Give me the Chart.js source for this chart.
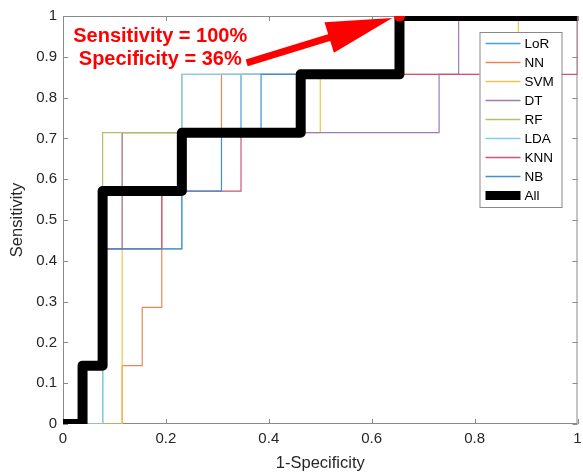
<!DOCTYPE html>
<html>
<head>
<meta charset="utf-8">
<script src="https://cdn.jsdelivr.net/npm/chart.js@4.4.0/dist/chart.umd.min.js"></script>
<style>
  html, body { margin: 0; padding: 0; background: #fff; }
  #roc { display: block; }
</style>
</head>
<body>
<canvas id="roc" width="583" height="473"></canvas>
<script>
// ROC curves, x = 1-Specificity, y = Sensitivity
const classifiers = ['LoR', 'NN', 'SVM', 'DT', 'RF', 'LDA', 'KNN', 'NB', 'All'];
const lineColors = ['#4a9fd8', '#e58a55', '#e8c54a', '#a27ab6', '#b2c06a', '#7ccdea', '#cc5577', '#3f8fd0', '#000000'];
const lineWidths = [1.2, 1.2, 1.2, 1.2, 1.2, 1.2, 1.2, 1.2, 10];

const lorX = [0, 0.077, 0.077, 0.231, 0.231, 0.346, 0.346, 0.654, 0.654, 1];
const lorY = [0, 0, 0.571, 0.571, 0.714, 0.714, 0.857, 0.857, 1, 1];
const nnX = [0, 0.115, 0.115, 0.154, 0.154, 0.192, 0.192, 0.231, 0.231, 0.308, 0.308, 0.654, 0.654, 1];
const nnY = [0, 0, 0.143, 0.143, 0.286, 0.286, 0.571, 0.571, 0.714, 0.714, 0.857, 0.857, 1, 1];
const svmX = [0, 0.115, 0.115, 0.5, 0.5, 0.885, 0.885, 1];
const svmY = [0, 0, 0.714, 0.714, 0.857, 0.857, 1, 1];
const dtX = [0, 0.038, 0.038, 0.077, 0.077, 0.115, 0.115, 0.731, 0.731, 0.769, 0.769, 1];
const dtY = [0, 0, 0.143, 0.143, 0.429, 0.429, 0.714, 0.714, 0.857, 0.857, 1, 1];
const rfX = [0, 0.077, 0.077, 0.231, 0.231, 0.654, 0.654, 1];
const rfY = [0, 0, 0.714, 0.714, 0.857, 0.857, 1, 1];
const ldaX = [0, 0.077, 0.077, 0.231, 0.231, 0.654, 0.654, 1];
const ldaY = [0, 0, 0.429, 0.429, 0.857, 0.857, 1, 1];
const knnX = [0, 0.038, 0.038, 0.077, 0.077, 0.192, 0.192, 0.346, 0.346, 0.462, 0.462, 1, 1];
const knnY = [0, 0, 0.143, 0.143, 0.429, 0.429, 0.571, 0.571, 0.714, 0.714, 0.857, 0.857, 1];
const nbX = [0, 0.038, 0.038, 0.077, 0.077, 0.231, 0.231, 0.308, 0.308, 0.385, 0.385, 0.654, 0.654, 1];
const nbY = [0, 0, 0.143, 0.143, 0.429, 0.429, 0.571, 0.571, 0.714, 0.714, 0.857, 0.857, 1, 1];
const allX = [0, 0.038, 0.038, 0.077, 0.077, 0.231, 0.231, 0.462, 0.462, 0.654, 0.654, 1];
const allY = [0, 0, 0.143, 0.143, 0.571, 0.571, 0.714, 0.714, 0.857, 0.857, 1, 1];

// operating point + annotation (data units)
const bestPoint = [0.654, 1];
const arrowTail = [0.357, 0.885];
const arrowTip = [0.64, 0.995];
const noteLines = ['Sensitivity = 100%', 'Specificity = 36%'];
const notePos = [[0.189, 0.949], [0.189, 0.893]];

const xTicks = [0, 0.2, 0.4, 0.6, 0.8, 1];
const yTicks = [0, 0.1, 0.2, 0.3, 0.4, 0.5, 0.6, 0.7, 0.8, 0.9, 1];

const curvesX = [lorX, nnX, svmX, dtX, rfX, ldaX, knnX, nbX, allX];
const curvesY = [lorY, nnY, svmY, dtY, rfY, ldaY, knnY, nbY, allY];

Chart.defaults.font.family = '"Liberation Sans", Arial, sans-serif';
Chart.defaults.color = '#262626';

const datasets = classifiers.map((name, i) => ({
    label: name,
    data: curvesX[i].map((v, k) => ({ x: v, y: curvesY[i][k] })),
    showLine: true,
    borderColor: lineColors[i],
    borderWidth: lineWidths[i],
    borderJoinStyle: i === 8 ? 'round' : 'miter',
    pointRadius: 0,
    fill: false,
    order: classifiers.length - i   // later curves drawn on top (like MATLAB)
}));
datasets.push({
    label: 'best',
    data: [{ x: bestPoint[0], y: bestPoint[1] }],
    pointRadius: 5.5,
    pointBackgroundColor: '#ff0000',
    pointBorderWidth: 0,
    showLine: false,
    order: -1
});

// box around the axes with inward ticks
const frameAndTicks = {
    id: 'frameAndTicks',
    beforeDatasetsDraw(chart) {
        const { ctx, chartArea: a, scales: { x, y } } = chart;
        ctx.save();
        ctx.strokeStyle = '#8a8a8a';
        ctx.lineWidth = 1;
        ctx.strokeRect(a.left + 0.5, a.top + 0.5, a.width - 1, a.height - 1);
        ctx.beginPath();
        xTicks.forEach(v => {
            const px = Math.round(x.getPixelForValue(v)) + 0.5;
            ctx.moveTo(px, a.bottom); ctx.lineTo(px, a.bottom - 5);
            ctx.moveTo(px, a.top); ctx.lineTo(px, a.top + 5);
        });
        yTicks.forEach(v => {
            const py = Math.round(y.getPixelForValue(v)) + 0.5;
            ctx.moveTo(a.left, py); ctx.lineTo(a.left + 5, py);
            ctx.moveTo(a.right, py); ctx.lineTo(a.right - 5, py);
        });
        ctx.stroke();
        ctx.restore();
    }
};

// legend inside the plot, top right
const boxLegend = {
    id: 'boxLegend',
    afterDatasetsDraw(chart) {
        const { ctx, chartArea: a } = chart;
        const w = 82, rowH = 19;
        const h = classifiers.length * rowH + 4;
        const left = a.right - 16 - w, top = a.top + 16;
        ctx.save();
        ctx.fillStyle = '#ffffff';
        ctx.fillRect(left, top, w, h);
        ctx.strokeStyle = '#8a8a8a';
        ctx.lineWidth = 1;
        ctx.strokeRect(left + 0.5, top + 0.5, w, h);
        ctx.font = '13.5px "Liberation Sans", Arial, sans-serif';
        ctx.textBaseline = 'middle';
        ctx.textAlign = 'left';
        classifiers.forEach((name, i) => {
            const cy = top + 11.5 + i * rowH;
            ctx.strokeStyle = lineColors[i];
            ctx.lineWidth = i === 8 ? 9 : 1.5;
            ctx.beginPath();
            ctx.moveTo(left + 6, cy);
            ctx.lineTo(left + 41, cy);
            ctx.stroke();
            ctx.fillStyle = '#000';
            ctx.fillText(name, left + 45, cy + 1);
        });
        ctx.restore();
    }
};

// red arrow and text pointing at the chosen operating point
const arrowNote = {
    id: 'arrowNote',
    afterDraw(chart) {
        const { ctx, scales: { x, y } } = chart;
        const tx = x.getPixelForValue(arrowTail[0]), ty = y.getPixelForValue(arrowTail[1]);
        const hx = x.getPixelForValue(arrowTip[0]), hy = y.getPixelForValue(arrowTip[1]);
        const ang = Math.atan2(hy - ty, hx - tx);
        const cos = Math.cos(ang), sin = Math.sin(ang);
        const headLen = 66, headHalf = 16;
        const bx = hx - headLen * cos, by = hy - headLen * sin;
        ctx.save();
        ctx.strokeStyle = '#ff0000';
        ctx.fillStyle = '#ff0000';
        ctx.lineWidth = 7;
        ctx.beginPath();
        ctx.moveTo(tx, ty);
        ctx.lineTo(bx + 4 * cos, by + 4 * sin);
        ctx.stroke();
        ctx.beginPath();
        ctx.moveTo(hx, hy);
        ctx.lineTo(bx - headHalf * sin, by + headHalf * cos);
        ctx.lineTo(bx + headHalf * sin, by - headHalf * cos);
        ctx.closePath();
        ctx.fill();
        ctx.font = 'bold 20px "Liberation Sans", Arial, sans-serif';
        ctx.textAlign = 'center';
        ctx.textBaseline = 'middle';
        noteLines.forEach((t, i) => {
            ctx.fillText(t, x.getPixelForValue(notePos[i][0]), y.getPixelForValue(notePos[i][1]));
        });
        ctx.restore();
    }
};

const ctx = document.getElementById('roc').getContext('2d');
new Chart(ctx, {
    type: 'scatter',
    data: { datasets: datasets },
    options: {
        responsive: false,
        animation: false,
        events: [],
        layout: { padding: { top: 16, right: 2, left: 0, bottom: 0 } },
        plugins: {
            legend: { display: false },
            tooltip: { enabled: false }
        },
        scales: {
            x: {
                type: 'linear',
                min: 0,
                max: 1,
                grid: { display: false, drawTicks: false },
                border: { display: false },
                afterBuildTicks: s => { s.ticks = xTicks.map(v => ({ value: v })); },
                ticks: { padding: 6, font: { size: 15 }, color: '#262626', maxRotation: 0, callback: v => String(v) },
                title: { display: true, text: '1-Specificity', font: { size: 16.5 }, color: '#262626', padding: { top: 0, bottom: 0 } },
                afterFit: s => { s.height = 49; s.paddingLeft = 0; s.paddingRight = 0; }
            },
            y: {
                type: 'linear',
                min: 0,
                max: 1,
                grid: { display: false, drawTicks: false },
                border: { display: false },
                afterBuildTicks: s => { s.ticks = yTicks.map(v => ({ value: v })); },
                ticks: { padding: 6, font: { size: 15 }, color: '#262626', callback: v => String(v) },
                title: { display: true, text: 'Sensitivity', font: { size: 16.5 }, color: '#262626', padding: { top: 8, bottom: 0 } },
                afterFit: s => { s.width = 63; s.paddingTop = 0; s.paddingBottom = 0; }
            }
        }
    },
    plugins: [frameAndTicks, boxLegend, arrowNote]
});
</script>
</body>
</html>
